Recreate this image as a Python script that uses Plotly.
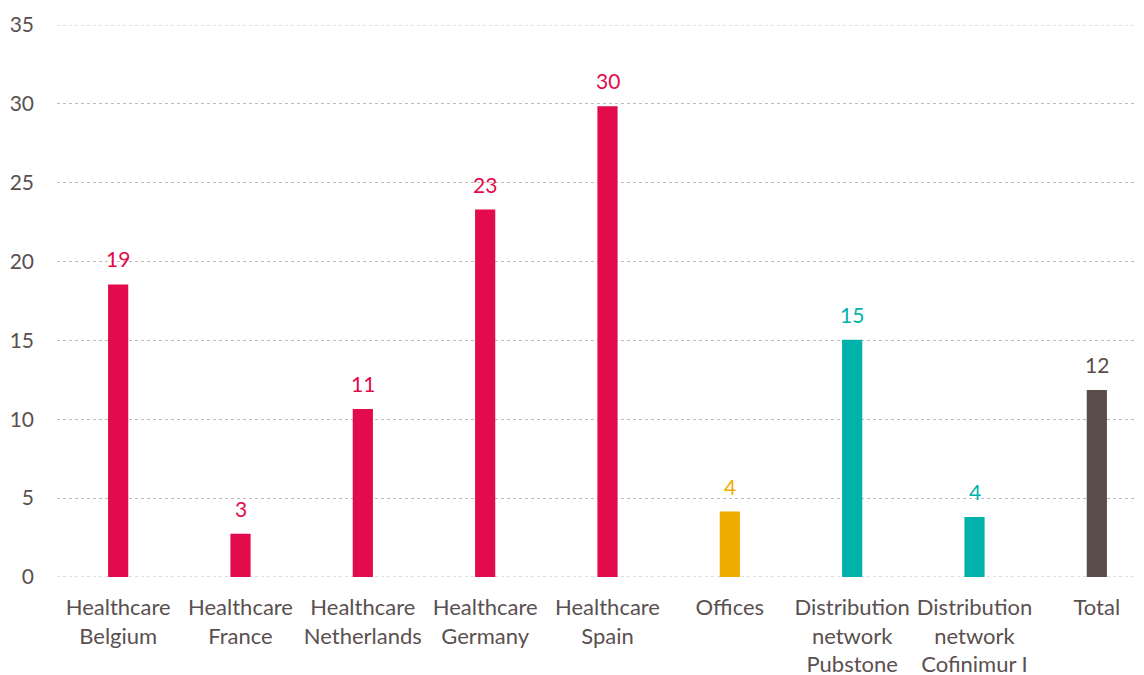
import plotly.graph_objects as go

categories = ["Healthcare<br>Belgium", "Healthcare<br>France", "Healthcare<br>Netherlands",
              "Healthcare<br>Germany", "Healthcare<br>Spain", "Offices",
              "Distribution<br>network<br>Pubstone", "Distribution<br>network<br>Cofinimur I", "Total"]
values = [18.55, 2.75, 10.65, 23.3, 29.85, 4.15, 15.05, 3.8, 11.85]
labels = ["19", "3", "11", "23", "30", "4", "15", "4", "12"]
colors = ["#E30B4B", "#E30B4B", "#E30B4B", "#E30B4B", "#E30B4B", "#F0AB00", "#00B2A9", "#00B2A9", "#5B4D4A"]
y_ticks = [0, 5, 10, 15, 20, 25, 30, 35]

FONT = "Lato"
TXT = "#5A5050"
GRID = "#BDBDBD"

fig = go.Figure()
fig.add_trace(go.Bar(
    x=list(range(len(categories))), y=values,
    marker=dict(color=colors, line=dict(width=0)),
    width=0.165, hoverinfo="skip",
))

for i, (v, t, c) in enumerate(zip(values, labels, colors)):
    fig.add_annotation(x=i, y=v, text=t, showarrow=False, yanchor="bottom",
                       yshift=11, font=dict(family=FONT, size=21, color=c))

# edge gridlines (0 and 35) which plotly skips at the range boundary
for yv in (y_ticks[0], y_ticks[-1]):
    fig.add_shape(type="line", xref="paper", yref="y", x0=0, x1=1, y0=yv, y1=yv,
                  line=dict(color=GRID, width=1, dash="dot"), layer="below")

fig.update_layout(
    width=1150, height=675,
    margin=dict(l=49, r=0, t=17, b=106),
    paper_bgcolor="white", plot_bgcolor="white",
    showlegend=False,
    font=dict(family=FONT, size=20, color=TXT),
    xaxis=dict(
        tickmode="array", tickvals=list(range(len(categories))), ticktext=categories,
        range=[-0.5, 8.5], showgrid=False, zeroline=False, showline=False,
        ticks="", ticklabelstandoff=15, tickangle=0, automargin=False,
        tickfont=dict(family=FONT, size=22, color=TXT),
    ),
    yaxis=dict(
        range=[0, 35], tickmode="array", tickvals=y_ticks,
        showgrid=True, gridcolor=GRID, griddash="dot", gridwidth=1,
        zeroline=False, showline=False, ticks="", automargin=False,
        ticklabelstandoff=22,
        tickfont=dict(family=FONT, size=21, color=TXT),
    ),
)

fig.write_html("out.html")
